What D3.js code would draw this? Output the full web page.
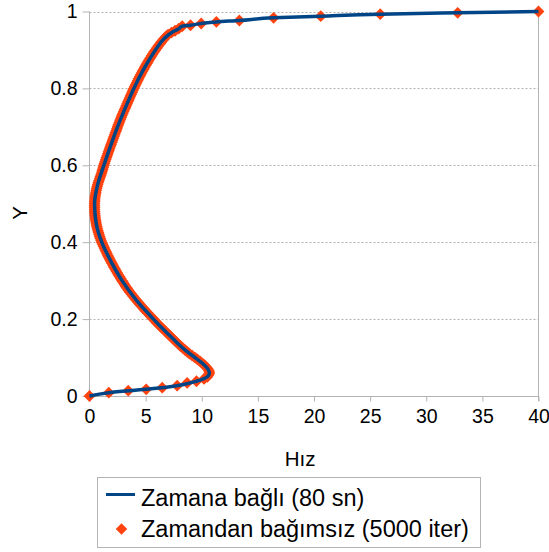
<!DOCTYPE html>
<html>
<head>
<meta charset="utf-8">
<script src="https://cdn.jsdelivr.net/npm/d3@7"></script>
<style>
  html, body { margin: 0; padding: 0; background: #fff; }
  svg { display: block; font-family: "Liberation Sans", Arial, sans-serif; }
</style>
</head>
<body>
<svg id="chart" width="549" height="552"></svg>
<script>
// Velocity profile across the channel height: time-dependent run vs steady solver
const xTicks = [0, 5, 10, 15, 20, 25, 30, 35, 40];
const yTicks = [0, 0.2, 0.4, 0.6, 0.8, 1];
const yTickLabels = ["0", "0.2", "0.4", "0.6", "0.8", "1"];

const seriesNames = ["Zamana bağlı (80 sn)", "Zamandan bağımsız (5000 iter)"];
const xTitle = "Hız";
const yTitle = "Y";

// Time-dependent solution (80 s): height Y and velocity
const transientY = [0, 0.0086, 0.0174, 0.0268, 0.0383, 0.05, 0.06, 0.07, 0.08, 0.09,
  0.10, 0.12, 0.14, 0.16, 0.18, 0.20, 0.25, 0.30, 0.35, 0.40, 0.45, 0.50, 0.55,
  0.60, 0.65, 0.70, 0.75, 0.80, 0.85, 0.90, 0.93, 0.945, 0.955, 0.9617, 0.9643,
  0.9688, 0.973, 0.9766, 0.9836, 0.9878, 0.993, 0.9966, 1.0];
const transientU = [0, 1.72, 5.05, 7.81, 9.53, 10.5, 10.68, 10.55, 10.25, 9.85,
  9.4, 8.5, 7.75, 7.05, 6.35, 5.7, 4.15, 2.9, 1.91, 1.09, 0.59, 0.45, 0.73,
  1.28, 1.87, 2.5, 3.2, 3.95, 4.83, 5.88, 6.66, 7.3, 7.95, 8.26, 9.0,
  9.95, 11.3, 13.35, 16.4, 20.6, 25.9, 32.8, 40];

// Steady solution (5000 iterations): height Y at each grid node ...
const steadyY = [0, 0.0086, 0.0138, 0.0174, 0.0216, 0.0268, 0.0339, 0.0383, 0.0443,
  0.05, 0.055, 0.06, 0.065, 0.07, 0.075, 0.08, 0.085, 0.09, 0.095,
  0.10, 0.105, 0.11, 0.115, 0.12, 0.125, 0.13, 0.135, 0.14, 0.145,
  0.15, 0.155, 0.16, 0.165, 0.17, 0.175, 0.18, 0.185, 0.19, 0.195,
  0.20, 0.205, 0.21, 0.215, 0.22, 0.225, 0.23, 0.235, 0.24, 0.245,
  0.25, 0.255, 0.26, 0.265, 0.27, 0.275, 0.28, 0.285, 0.29, 0.295,
  0.30, 0.305, 0.31, 0.315, 0.32, 0.325, 0.33, 0.335, 0.34, 0.345,
  0.35, 0.355, 0.36, 0.365, 0.37, 0.375, 0.38, 0.385, 0.39, 0.395,
  0.40, 0.405, 0.41, 0.415, 0.42, 0.425, 0.43, 0.435, 0.44, 0.445,
  0.45, 0.455, 0.46, 0.465, 0.47, 0.475, 0.48, 0.485, 0.49, 0.495,
  0.50, 0.505, 0.51, 0.515, 0.52, 0.525, 0.53, 0.535, 0.54, 0.545,
  0.55, 0.555, 0.56, 0.565, 0.57, 0.575, 0.58, 0.585, 0.59, 0.595,
  0.60, 0.605, 0.61, 0.615, 0.62, 0.625, 0.63, 0.635, 0.64, 0.645,
  0.65, 0.655, 0.66, 0.665, 0.67, 0.675, 0.68, 0.685, 0.69, 0.695,
  0.70, 0.705, 0.71, 0.715, 0.72, 0.725, 0.73, 0.735, 0.74, 0.745,
  0.75, 0.755, 0.76, 0.765, 0.77, 0.775, 0.78, 0.785, 0.79, 0.795,
  0.80, 0.805, 0.81, 0.815, 0.82, 0.825, 0.83, 0.835, 0.84, 0.845,
  0.85, 0.855, 0.86, 0.865, 0.87, 0.875, 0.88, 0.885, 0.89, 0.895,
  0.90, 0.905, 0.91, 0.915, 0.92, 0.925, 0.93, 0.935, 0.94, 0.945,
  0.95, 0.9555, 0.9617, 0.9643, 0.9688, 0.973, 0.9766, 0.9836, 0.9878, 0.993,
  0.9966, 1.0];
// ... and the velocity there
const steadyU = [0, 1.72, 3.45, 5.05, 6.48, 7.81, 8.70, 9.53, 10.2,
  10.5, 10.62, 10.68, 10.65, 10.55, 10.42, 10.25, 10.05, 9.85, 9.62,
  9.4, 9.15, 8.9, 8.7, 8.5, 8.3, 8.1, 7.92, 7.75, 7.57,
  7.4, 7.22, 7.05, 6.87, 6.7, 6.52, 6.35, 6.17, 6.0, 5.85,
  5.7, 5.53, 5.37, 5.21, 5.05, 4.89, 4.74, 4.59, 4.44, 4.29,
  4.15, 4.01, 3.87, 3.73, 3.6, 3.47, 3.35, 3.23, 3.12, 3.01,
  2.9, 2.79, 2.69, 2.58, 2.48, 2.38, 2.28, 2.18, 2.09, 2.0,
  1.91, 1.82, 1.73, 1.64, 1.56, 1.48, 1.4, 1.32, 1.24, 1.16,
  1.09, 1.02, 0.96, 0.9, 0.85, 0.8, 0.75, 0.7, 0.66, 0.62,
  0.59, 0.56, 0.53, 0.51, 0.49, 0.47, 0.46, 0.455, 0.45, 0.45,
  0.45, 0.46, 0.47, 0.49, 0.51, 0.54, 0.57, 0.6, 0.64, 0.68,
  0.73, 0.78, 0.84, 0.9, 0.96, 1.02, 1.08, 1.13, 1.18, 1.23,
  1.28, 1.33, 1.39, 1.45, 1.51, 1.57, 1.63, 1.69, 1.75, 1.81,
  1.87, 1.93, 2.0, 2.06, 2.12, 2.18, 2.25, 2.31, 2.38, 2.44,
  2.5, 2.56, 2.63, 2.7, 2.76, 2.83, 2.9, 2.97, 3.05, 3.12,
  3.2, 3.27, 3.35, 3.42, 3.5, 3.57, 3.65, 3.72, 3.8, 3.87,
  3.95, 4.03, 4.12, 4.2, 4.29, 4.37, 4.46, 4.55, 4.64, 4.73,
  4.83, 4.92, 5.02, 5.12, 5.22, 5.32, 5.43, 5.54, 5.65, 5.76,
  5.88, 6.0, 6.12, 6.25, 6.38, 6.52, 6.66, 6.82, 7.0, 7.3,
  7.62, 7.95, 8.26, 9.0, 9.95, 11.3, 13.35, 16.4, 20.6, 25.9,
  32.8, 40];

const lineColor = "#004586";
const markerColor = "#ff420e";
const axisColor = "#b3b3b3";

const svg = d3.select("#chart");

const x = d3.scaleLinear().domain([0, 40]).range([89.5, 538.5]);
const y = d3.scaleLinear().domain([0, 1]).range([396, 11.5]);

// Horizontal grid lines
svg.append("g")
  .selectAll("line")
  .data(yTicks.filter(d => d > 0))
  .join("line")
  .attr("x1", x(0)).attr("x2", x(40))
  .attr("y1", d => Math.round(y(d)) + 0.5).attr("y2", d => Math.round(y(d)) + 0.5)
  .attr("stroke", axisColor)
  .attr("stroke-width", 1)
  .attr("stroke-dasharray", "2,2");

// Right border of plot area
svg.append("line")
  .attr("x1", x(40)).attr("x2", x(40))
  .attr("y1", y(1)).attr("y2", y(0) + 5)
  .attr("stroke", axisColor);

// X axis
const xAxis = svg.append("g")
  .attr("transform", `translate(0,${y(0) + 0.5})`)
  .call(d3.axisBottom(x).tickValues(xTicks).tickFormat(d3.format("d"))
    .tickSize(5).tickPadding(8));

// Y axis
const yAxis = svg.append("g")
  .attr("transform", `translate(${x(0)},0)`)
  .call(d3.axisLeft(y).tickValues(yTicks)
    .tickFormat((d, i) => yTickLabels[i]).tickSize(7).tickPadding(5));

[xAxis, yAxis].forEach(g => {
  g.select(".domain").attr("stroke", axisColor);
  g.selectAll(".tick line").attr("stroke", axisColor);
  g.selectAll(".tick text")
    .attr("fill", "#000")
    .style("font-size", "19.5px")
    .style("font-family", "Liberation Sans, Arial, sans-serif");
});
xAxis.select(".domain").attr("d", `M${x(0)},0H${x(40)}`);
yAxis.select(".domain").attr("d", `M0,${y(1)}V${y(0)}`);

// Axis titles
svg.append("text")
  .attr("x", 300).attr("y", 466)
  .attr("text-anchor", "middle")
  .style("font-size", "20.5px")
  .text(xTitle);

svg.append("text")
  .attr("transform", "translate(26.5,213) rotate(-90)")
  .attr("text-anchor", "middle")
  .style("font-size", "20.5px")
  .text(yTitle);

// Diamond marker, half-diagonal r
const diamondPath = r => `M0,${-r}L${r},0L0,${r}L${-r},0Z`;
const markerR = 5.9;

// Steady markers (drawn beneath the transient line)
const steadyPts = steadyY.map((v, i) => ({ y: v, u: steadyU[i] }));
svg.append("g")
  .selectAll("path")
  .data(steadyPts)
  .join("path")
  .attr("transform", d => `translate(${x(d.u)},${y(d.y)})`)
  .attr("d", diamondPath(markerR))
  .attr("fill", markerColor);

// Transient line
const transientPts = transientY.map((v, i) => ({ y: v, u: transientU[i] }));
svg.append("path")
  .datum(transientPts)
  .attr("fill", "none")
  .attr("stroke", lineColor)
  .attr("stroke-width", 3.5)
  .attr("stroke-linejoin", "round")
  .attr("d", d3.line().x(d => x(d.u)).y(d => y(d.y)).curve(d3.curveMonotoneY));

// Legend
const legend = svg.append("g");
legend.append("rect")
  .attr("x", 97.5).attr("y", 477.5)
  .attr("width", 383).attr("height", 70)
  .attr("fill", "#fff")
  .attr("stroke", axisColor);
legend.append("line")
  .attr("x1", 106).attr("x2", 135)
  .attr("y1", 494.5).attr("y2", 494.5)
  .attr("stroke", lineColor)
  .attr("stroke-width", 3);
legend.append("path")
  .attr("transform", "translate(121.5,529)")
  .attr("d", diamondPath(5.75))
  .attr("fill", markerColor);
legend.selectAll("text")
  .data(seriesNames)
  .join("text")
  .attr("x", 141)
  .attr("y", (d, i) => 505.5 + i * 31)
  .style("font-size", "23.5px")
  .attr("fill", "#000")
  .text(d => d);
</script>
</body>
</html>
